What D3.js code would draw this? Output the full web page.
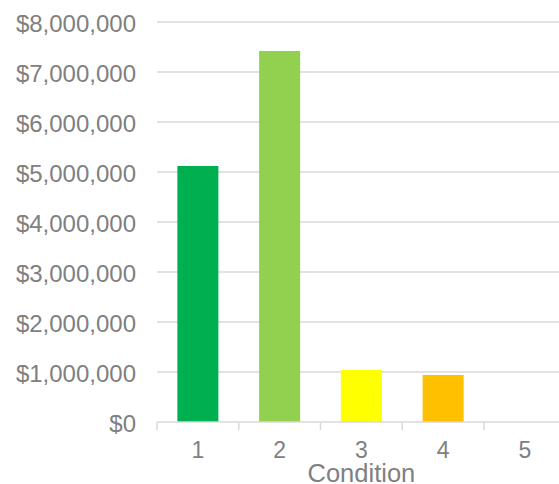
<!DOCTYPE html>
<html>
<head>
<meta charset="utf-8">
<script src="https://cdn.jsdelivr.net/npm/d3@7"></script>
<style>
  html, body { margin: 0; padding: 0; background: #fff; }
  svg { display: block; }
</style>
</head>
<body>
<svg id="chart" width="559" height="484"></svg>
<script>
// Chart data
const categories = ["1", "2", "3", "4", "5"];
const values = [5120000, 7420000, 1040000, 940000, 0];
const barColors = ["#00b050", "#92d050", "#ffff00", "#ffc000", "#ff0000"];
const yTicks = [0, 1000000, 2000000, 3000000, 4000000, 5000000, 6000000, 7000000, 8000000];
const xTitle = "Condition";

const svg = d3.select("#chart");
const font = "'Liberation Sans', Arial, sans-serif";
const textColor = "#808080";
const gridColor = "#d9d9d9";

const plotLeft = 157, plotTop = 22, plotBottom = 422, bandRight = 565.75;

const x = d3.scaleBand().domain(categories).range([plotLeft, bandRight]).paddingInner(0).paddingOuter(0);
const y = d3.scaleLinear().domain([0, 8000000]).range([plotBottom, plotTop]);

// Horizontal gridlines
svg.append("g")
  .selectAll("line")
  .data(yTicks.filter(d => d > 0))
  .join("line")
  .attr("x1", plotLeft).attr("x2", 559)
  .attr("y1", d => y(d)).attr("y2", d => y(d))
  .attr("stroke", gridColor).attr("stroke-width", 1.5);

// Bars
const barW = 41;
svg.append("g")
  .selectAll("rect")
  .data(categories.map((c, i) => ({ c, v: values[i], col: barColors[i] })))
  .join("rect")
  .attr("x", d => x(d.c) + x.bandwidth() / 2 - barW / 2)
  .attr("y", d => y(d.v))
  .attr("width", barW)
  .attr("height", d => y(0) - y(d.v))
  .attr("fill", d => d.col);

// Y axis labels
const fmt = d3.format("$,.0f");
const yAxis = d3.axisLeft(y).tickValues(yTicks).tickFormat(fmt).tickSize(0).tickPadding(21);
const yg = svg.append("g").attr("transform", `translate(${plotLeft},0)`).call(yAxis);
yg.select(".domain").remove();
yg.selectAll("text")
  .attr("fill", textColor)
  .attr("dy", "0.38em")
  .style("font-family", font)
  .style("font-size", "24px");

// X axis baseline with boundary ticks
const xg = svg.append("g");
xg.append("line")
  .attr("x1", plotLeft).attr("x2", 559)
  .attr("y1", y(0)).attr("y2", y(0))
  .attr("stroke", gridColor).attr("stroke-width", 1.5);
const bounds = categories.map(c => x(c));
xg.selectAll("line.tick")
  .data(bounds)
  .join("line")
  .attr("class", "tick")
  .attr("x1", d => d).attr("x2", d => d)
  .attr("y1", y(0)).attr("y2", y(0) + 8)
  .attr("stroke", gridColor).attr("stroke-width", 1.5);

// X category labels
xg.selectAll("text.cat")
  .data(categories)
  .join("text")
  .attr("class", "cat")
  .attr("x", c => x(c) + x.bandwidth() / 2)
  .attr("y", 458)
  .attr("text-anchor", "middle")
  .attr("fill", textColor)
  .style("font-family", font)
  .style("font-size", "23px")
  .text(c => c);

// X axis title
svg.append("text")
  .attr("x", (plotLeft + bandRight) / 2)
  .attr("y", 482)
  .attr("text-anchor", "middle")
  .attr("fill", textColor)
  .style("font-family", font)
  .style("font-size", "25.5px")
  .text(xTitle);
</script>
</body>
</html>
